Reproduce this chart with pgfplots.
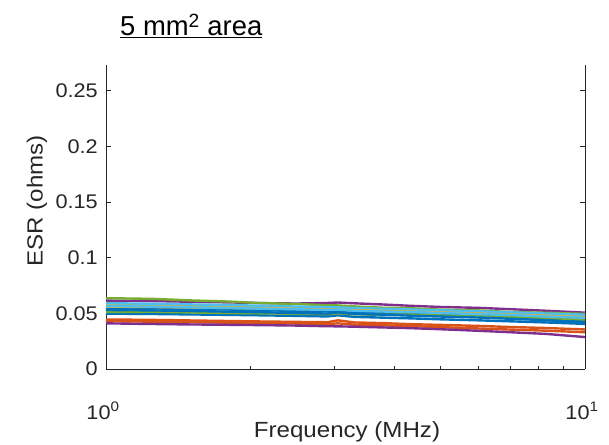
\documentclass[border=0pt]{standalone}
\usepackage{pgfplots}
\pgfplotsset{compat=1.18}
\usepackage{pgfplotstable}
\usepackage{fontspec}
\setmainfont{Liberation Sans}[FakeStretch=1.1]
\newfontfamily\titlefont{Liberation Sans}
\definecolor{mblue}{rgb}{0,0.447,0.741}
\definecolor{morange}{rgb}{0.850,0.325,0.098}
\definecolor{myellow}{rgb}{0.929,0.694,0.125}
\definecolor{mpurple}{rgb}{0.494,0.184,0.556}
\definecolor{mgreen}{rgb}{0.466,0.674,0.188}
\definecolor{mlblue}{rgb}{0.301,0.745,0.933}
\definecolor{axcol}{rgb}{0.15,0.15,0.15}
\pgfplotstableread{
f    s1     s2     s3     s4     s5     s6     s8     s9     s10    s11    s12    s13    s14
1    0.0549 0.0445 0.0576 0.0614 0.0636 0.0591 0.0497 0.0430 0.0560 0.0410 0.0512 0.0565 0.0530
1.25 0.0544 0.0441 0.0573 0.0610 0.0630 0.0586 0.0494 0.0425 0.0557 0.0404 0.0514 0.0560 0.0526
1.5  0.0539 0.0436 0.0570 0.0604 0.0616 0.0580 0.0490 0.0420 0.0552 0.0400 0.0508 0.0553 0.0521
1.8  0.0534 0.0431 0.0564 0.0598 0.0606 0.0575 0.0486 0.0416 0.0548 0.0397 0.0503 0.0548 0.0515
2.1  0.0528 0.0427 0.0559 0.0592 0.0592 0.0568 0.0482 0.0412 0.0545 0.0394 0.0500 0.0542 0.0510
2.5  0.0522 0.0423 0.0552 0.0588 0.0584 0.0561 0.0477 0.0408 0.0539 0.0390 0.0496 0.0536 0.0503
2.9  0.0516 0.0420 0.0546 0.0593 0.0572 0.0556 0.0472 0.0403 0.0534 0.0384 0.0492 0.0531 0.0498
3.05 0.0524 0.0437 0.0544 0.0597 0.0571 0.0553 0.0482 0.0410 0.0532 0.0383 0.0500 0.0534 0.0508
3.3  0.0510 0.0418 0.0538 0.0590 0.0562 0.0548 0.0468 0.0398 0.0527 0.0380 0.0491 0.0523 0.0495
3.8  0.0503 0.0412 0.0531 0.0579 0.0550 0.0541 0.0461 0.0392 0.0521 0.0373 0.0486 0.0516 0.0488
4.3  0.0496 0.0403 0.0527 0.0568 0.0546 0.0535 0.0455 0.0386 0.0515 0.0367 0.0490 0.0512 0.0479
5    0.0487 0.0396 0.0517 0.0557 0.0533 0.0527 0.0446 0.0376 0.0507 0.0357 0.0481 0.0503 0.0471
6    0.0476 0.0387 0.0507 0.0549 0.0526 0.0518 0.0437 0.0364 0.0497 0.0343 0.0474 0.0493 0.0462
7    0.0465 0.0377 0.0497 0.0537 0.0512 0.0509 0.0428 0.0354 0.0488 0.0330 0.0467 0.0485 0.0451
8.3  0.0452 0.0368 0.0488 0.0523 0.0505 0.0498 0.0418 0.0344 0.0478 0.0315 0.0458 0.0471 0.0438
10   0.0432 0.0355 0.0472 0.0506 0.0495 0.0488 0.0405 0.0330 0.0462 0.0287 0.0445 0.0460 0.0418
}\data
\begin{document}
\begin{tikzpicture}
\begin{axis}[
  scale only axis, width=479bp, height=304bp,
  xmode=log, xmin=1, xmax=10, ymin=0, ymax=0.273,
  separate axis lines, axis x line*=bottom,
  axis line style={color=axcol, line width=0.8bp},
  tick style={color=axcol, line width=0.8bp},
  major tick length=5bp, minor tick length=3bp, tick align=inside,
  xtick={1,10}, minor xtick={2,3,4,5,6,7,8,9},
  xticklabels={10\textsuperscript{0},10\textsuperscript{1}},
  ytick={0,0.05,0.1,0.15,0.2,0.25},
  yticklabels={0,0.05,0.1,0.15,0.2,0.25},
  ticklabel style={font=\fontsize{19.8}{22}\selectfont, text=axcol},
  xticklabel style={anchor=base, yshift=-50bp, xshift=-3bp, inner sep=0pt},
  yticklabel style={anchor=east, inner sep=0pt, xshift=-8bp},
  every axis plot/.append style={line width=2.4pt, line join=round},
]
\addplot[mblue] table[x=f,y=s1] {\data};
\addplot[morange] table[x=f,y=s2] {\data};
\addplot[myellow] table[x=f,y=s3] {\data};
\addplot[mpurple] table[x=f,y=s4] {\data};
\addplot[mgreen] table[x=f,y=s5] {\data};
\addplot[mlblue] table[x=f,y=s6] {\data};
\addplot[mblue] table[x=f,y=s8] {\data};
\addplot[morange] table[x=f,y=s9] {\data};
\addplot[myellow] table[x=f,y=s10] {\data};
\addplot[mpurple] table[x=f,y=s11] {\data};
\addplot[mgreen] table[x=f,y=s12] {\data};
\addplot[mlblue] table[x=f,y=s13] {\data};
\addplot[mblue] table[x=f,y=s14] {\data};
\end{axis}
\node[anchor=base west, inner sep=0pt, font=\titlefont\fontsize{27.5}{30}\selectfont] at (14bp,333bp) {\underline{5 mm\textsuperscript{2} area}};
\node[rotate=90, font=\fontsize{22}{25}\selectfont, text=axcol] at (-69bp,168bp) {ESR (ohms)};
\node[anchor=base, font=\fontsize{22}{25}\selectfont, text=axcol] at (241bp,-68bp) {Frequency (MHz)};
\pgfresetboundingbox
\path[use as bounding box] (-106bp,-76bp) rectangle (503bp,369bp);
\end{tikzpicture}
\end{document}
